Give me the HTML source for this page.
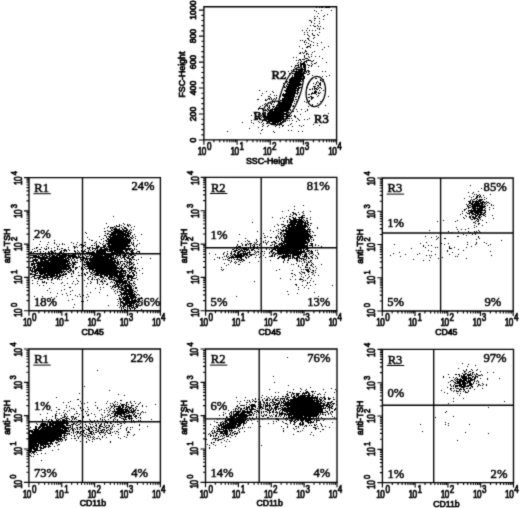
<!DOCTYPE html>
<html><head><meta charset="utf-8"><title>Flow cytometry</title>
<style>html,body{margin:0;padding:0;background:#fff}svg{display:block}</style></head>
<body><svg width="520" height="508" viewBox="0 0 520 508" style="display:block"><rect width="520" height="508" fill="#fff"/><defs><filter id="soft" x="0" y="0" width="100%" height="100%" filterUnits="userSpaceOnUse" color-interpolation-filters="sRGB"><feConvolveMatrix order="3" kernelMatrix="0.025 0.1 0.025 0.1 0.5 0.1 0.025 0.1 0.025" divisor="1" edgeMode="duplicate" preserveAlpha="false"/></filter></defs><g filter="url(#soft)"><path d="M203.9 6.7H336.6V139.8H203.9Z" fill="none" stroke="#000" stroke-width="1.35"/><path d="M203.90 139.8v5M213.89 139.8v2.5M219.73 139.8v2.5M223.87 139.8v2.5M227.09 139.8v2.5M229.72 139.8v2.5M231.94 139.8v2.5M233.86 139.8v2.5M235.56 139.8v2.5M237.08 139.8v5M247.06 139.8v2.5M252.90 139.8v2.5M257.05 139.8v2.5M260.26 139.8v2.5M262.89 139.8v2.5M265.11 139.8v2.5M267.04 139.8v2.5M268.73 139.8v2.5M270.25 139.8v5M280.24 139.8v2.5M286.08 139.8v2.5M290.22 139.8v2.5M293.44 139.8v2.5M296.07 139.8v2.5M298.29 139.8v2.5M300.21 139.8v2.5M301.91 139.8v2.5M303.43 139.8v5M313.41 139.8v2.5M319.25 139.8v2.5M323.40 139.8v2.5M326.61 139.8v2.5M329.24 139.8v2.5M331.46 139.8v2.5M333.39 139.8v2.5M335.08 139.8v2.5M336.60 139.8v5M203.9 140.00h-5M203.9 134.80h-2.5M203.9 129.61h-2.5M203.9 124.41h-2.5M203.9 119.22h-2.5M203.9 114.02h-5M203.9 108.82h-2.5M203.9 103.63h-2.5M203.9 98.43h-2.5M203.9 93.24h-2.5M203.9 88.04h-5M203.9 82.84h-2.5M203.9 77.65h-2.5M203.9 72.45h-2.5M203.9 67.26h-2.5M203.9 62.06h-5M203.9 56.86h-2.5M203.9 51.67h-2.5M203.9 46.47h-2.5M203.9 41.28h-2.5M203.9 36.08h-5M203.9 30.88h-2.5M203.9 25.69h-2.5M203.9 20.49h-2.5M203.9 15.30h-2.5M203.9 10.10h-5" fill="none" stroke="#000" stroke-width="1.15"/><g font-family="Liberation Sans, sans-serif" fill="#000" stroke="#000" stroke-width="0.7"><text transform="translate(197.8,154.6) scale(0.86,1.07)" font-size="9.5"><tspan letter-spacing="-0.6">10</tspan><tspan dx="1.2" dy="-4.6" font-size="9.4">0</tspan></text><text transform="translate(230.4,154.6) scale(0.86,1.07)" font-size="9.5"><tspan letter-spacing="-0.6">10</tspan><tspan dx="1.2" dy="-4.6" font-size="9.4">1</tspan></text><text transform="translate(263.0,154.6) scale(0.86,1.07)" font-size="9.5"><tspan letter-spacing="-0.6">10</tspan><tspan dx="1.2" dy="-4.6" font-size="9.4">2</tspan></text><text transform="translate(295.6,154.6) scale(0.86,1.07)" font-size="9.5"><tspan letter-spacing="-0.6">10</tspan><tspan dx="1.2" dy="-4.6" font-size="9.4">3</tspan></text><text transform="translate(328.2,154.6) scale(0.86,1.07)" font-size="9.5"><tspan letter-spacing="-0.6">10</tspan><tspan dx="1.2" dy="-4.6" font-size="9.4">4</tspan></text><text transform="translate(195.9,140.0) rotate(-90)" font-size="8.6" text-anchor="middle">0</text><text transform="translate(195.9,114.0) rotate(-90)" font-size="8.6" text-anchor="middle">200</text><text transform="translate(195.9,88.0) rotate(-90)" font-size="8.6" text-anchor="middle">400</text><text transform="translate(195.9,62.1) rotate(-90)" font-size="8.6" text-anchor="middle">600</text><text transform="translate(195.9,36.1) rotate(-90)" font-size="8.6" text-anchor="middle">800</text><text transform="translate(195.9,10.1) rotate(-90)" font-size="8.6" text-anchor="middle">1000</text><text x="246" y="163.8" font-size="8.8">SSC-Height</text><text transform="translate(184.6,97.6) rotate(-90)" font-size="8.8">FSC-Height</text></g><path transform="translate(0,0.5)" d="M316 7h1M319 7h1M321 7h2M325 7h5M314 10h1M321 10h1M331 10h1M316 11h1M318 13h1M327 14h1M324 15h1M314 16h1M317 16h1M323 16h1M314 18h2M319 18h1M323 19h1M309 20h2M314 20h1M311 21h1M319 21h1M311 22h1M314 23h1M319 23h1M310 25h1M313 25h1M317 25h1M314 26h2M318 26h1M320 26h1M307 28h1M317 28h1M319 28h1M323 28h1M319 29h1M302 30h1M306 30h1M309 30h1M312 30h1M315 30h1M304 32h1M307 32h1M319 32h1M312 33h1M304 34h1M307 34h1M312 34h1M317 34h1M308 35h1M313 35h2M318 35h1M309 36h1M314 37h1M307 38h2M313 38h1M308 39h1M300 40h1M302 40h1M305 40h1M309 40h1M304 41h1M311 41h1M304 42h1M306 42h1M313 42h1M321 42h1M308 43h1M317 43h1M305 44h1M310 44h1M310 45h1M313 45h1M317 45h1M299 46h1M307 46h3M328 46h1M306 47h2M310 47h1M324 47h1M302 48h1M322 49h1M305 50h1M305 51h2M314 51h1M300 52h1M302 52h1M304 52h1M312 52h1M299 53h2M303 53h1M306 53h2M306 54h1M308 54h1M311 54h1M304 55h1M304 56h1M308 56h1M311 56h1M315 56h1M319 56h1M293 57h1M296 57h1M304 57h1M309 57h1M305 58h3M322 58h1M299 59h2M302 59h3M308 59h1M296 60h1M298 60h1M300 60h1M306 60h5M313 60h1M301 61h1M304 61h3M311 61h2M298 62h1M300 62h1M303 62h2M306 62h1M316 62h1M326 62h1M297 63h1M300 63h5M311 63h1M314 63h2M298 64h1M300 64h6M307 64h1M312 64h1M295 65h4M300 65h2M303 65h3M308 65h2M311 65h1M291 66h1M295 66h1M298 66h1M300 66h2M303 66h3M311 66h1M318 66h1M294 67h1M299 67h1M301 67h1M303 67h3M308 67h1M295 68h2M301 68h2M304 68h2M293 69h2M296 69h10M291 70h1M296 70h1M298 70h5M304 70h2M307 70h2M288 71h1M293 71h10M304 71h3M308 71h2M322 71h1M325 71h1M295 72h7M303 72h2M306 72h1M308 72h1M289 73h1M292 73h14M309 73h1M294 74h10M307 74h2M292 75h1M294 75h10M312 75h1M329 75h1M288 76h1M292 76h1M294 76h11M315 76h1M322 76h1M326 76h1M285 77h1M291 77h11M304 77h1M290 78h15M311 78h2M315 78h2M289 79h15M320 79h1M323 79h1M289 80h12M302 80h1M320 80h2M286 81h2M289 81h13M303 81h1M317 81h1M322 81h1M286 82h1M288 82h12M316 82h1M318 82h1M320 82h1M283 83h1M287 83h1M289 83h12M302 83h1M313 83h1M316 83h1M319 83h2M284 84h1M287 84h15M308 84h1M315 84h1M319 84h2M283 85h1M286 85h1M288 85h13M317 85h2M320 85h1M284 86h1M286 86h13M313 86h3M318 86h1M284 87h2M287 87h10M298 87h4M306 87h1M314 87h1M317 87h1M319 87h2M286 88h14M312 88h1M314 88h3M318 88h1M321 88h1M286 89h10M297 89h2M309 89h2M312 89h1M314 89h1M316 89h2M259 90h1M284 90h15M315 90h1M319 90h1M323 90h1M266 91h1M272 91h1M281 91h1M285 91h11M297 91h1M314 91h3M273 92h1M286 92h10M297 92h2M312 92h1M314 92h3M318 92h1M320 92h1M262 93h1M283 93h1M285 93h13M311 93h5M318 93h2M270 94h1M282 94h13M297 94h1M308 94h2M311 94h1M316 94h1M261 95h1M274 95h1M276 95h1M280 95h1M282 95h13M299 95h1M318 95h1M268 96h2M280 96h1M283 96h12M296 96h1M298 96h1M310 96h2M317 96h1M328 96h1M270 97h1M276 97h1M279 97h1M284 97h10M295 97h1M298 97h1M308 97h2M311 97h3M268 98h2M271 98h1M274 98h1M276 98h1M282 98h12M298 98h1M311 98h2M257 99h2M265 99h1M267 99h1M269 99h1M271 99h1M273 99h1M275 99h1M282 99h12M295 99h2M311 99h1M265 100h2M272 100h1M280 100h14M307 100h1M309 100h1M272 101h1M274 101h1M279 101h1M282 101h11M294 101h1M296 101h1M304 101h1M308 101h2M320 101h1M268 102h1M272 102h1M274 102h1M279 102h14M306 102h1M265 103h1M270 103h2M278 103h14M294 103h1M296 103h1M317 103h1M264 104h1M266 104h1M271 104h1M273 104h1M277 104h1M279 104h13M312 104h1M262 105h1M267 105h1M269 105h1M276 105h16M293 105h1M312 105h1M325 105h1M260 106h1M267 106h1M269 106h1M272 106h3M276 106h1M278 106h13M292 106h2M308 106h1M259 107h1M264 107h1M268 107h2M273 107h1M275 107h16M318 107h1M258 108h5M267 108h1M269 108h1M272 108h1M274 108h16M258 109h1M262 109h1M265 109h1M267 109h2M270 109h21M296 109h1M301 109h1M307 109h1M264 110h3M268 110h5M274 110h15M290 110h1M292 110h1M307 110h1M267 111h1M269 111h19M292 111h2M297 111h1M305 111h1M256 112h1M259 112h1M265 112h1M268 112h16M286 112h4M254 113h1M259 113h1M262 113h2M267 113h20M290 113h1M328 113h1M258 114h1M262 114h2M265 114h1M267 114h21M300 114h1M251 115h1M261 115h1M264 115h2M267 115h17M286 115h4M291 115h1M294 115h1M256 116h1M260 116h1M262 116h1M264 116h27M294 116h2M259 117h1M261 117h1M263 117h1M265 117h19M286 117h2M295 117h1M315 117h1M255 118h3M259 118h2M266 118h18M287 118h3M291 118h1M297 118h1M309 118h1M255 119h1M257 119h1M265 119h1M267 119h17M298 119h1M304 119h1M307 119h1M251 120h1M262 120h5M268 120h14M283 120h1M285 120h1M287 120h1M289 120h1M292 120h1M299 120h1M258 121h1M262 121h1M266 121h15M282 121h2M285 121h1M296 121h1M242 122h1M251 122h1M259 122h1M261 122h1M267 122h1M269 122h1M272 122h7M280 122h3M325 122h1M253 123h1M263 123h1M266 123h2M270 123h6M277 123h1M279 123h1M291 123h1M262 124h1M271 124h1M273 124h3M277 124h2M280 124h2M290 124h1M313 124h1M263 125h1M268 125h1M276 125h1M279 125h1M282 125h2M288 125h1M299 125h1M303 125h1M319 125h1M262 126h1M267 126h1M275 126h1M282 126h1M292 126h1M301 126h1M258 127h1M279 127h1M249 128h1M262 129h1M261 130h1M288 130h1M291 130h1M227 131h1M273 131h1M298 131h1M302 131h1M274 132h1M260 133h1" stroke="#000" stroke-width="1.1" fill="none"/><g fill="none" stroke="#000" stroke-width="1.25"><ellipse cx="275.6" cy="112.9" rx="12.5" ry="11.9"/><ellipse cx="290.6" cy="93.6" rx="27.5" ry="9.3" transform="rotate(-70 290.6 93.6)"/><ellipse cx="315.8" cy="91.6" rx="9.6" ry="15.2" transform="rotate(8 315.8 91.6)"/></g><g font-family="Liberation Serif, serif" font-size="12.6" fill="#000" stroke="#000" stroke-width="0.7"><text x="271.5" y="79.4">R2</text><text x="253.4" y="119.8">R1</text><text x="314.0" y="122.6">R3</text></g><g><path transform="translate(0,0.5)" d="M113 216h1M106 223h1M123 223h1M119 224h1M124 224h1M127 224h1M129 224h1M116 225h1M119 225h1M121 225h1M127 225h2M130 225h1M108 226h1M114 226h1M116 226h4M123 226h1M128 226h1M134 226h1M107 227h1M110 227h4M115 227h1M121 227h1M124 227h2M131 227h1M104 228h1M110 228h1M112 228h1M114 228h3M119 228h1M122 228h1M124 228h3M111 229h1M113 229h7M122 229h2M126 229h2M130 229h1M133 229h1M107 230h1M111 230h2M114 230h8M123 230h5M129 230h1M131 230h1M104 231h2M108 231h3M113 231h14M128 231h2M85 232h1M111 232h13M125 232h4M130 232h2M86 233h1M105 233h1M107 233h2M111 233h15M127 233h4M107 234h1M109 234h7M117 234h12M130 234h1M134 234h1M141 234h1M104 235h2M110 235h20M132 235h1M99 236h1M106 236h1M108 236h3M112 236h12M125 236h5M132 236h1M135 236h1M87 237h1M106 237h1M109 237h18M128 237h1M130 237h2M133 237h1M103 238h1M107 238h2M110 238h18M129 238h1M131 238h2M135 238h1M33 239h1M89 239h1M101 239h1M107 239h24M54 240h1M91 240h2M105 240h2M108 240h23M133 240h1M137 240h1M40 241h1M96 241h1M103 241h1M106 241h25M48 242h1M54 242h1M71 242h1M77 242h1M84 242h2M95 242h1M99 242h1M108 242h22M131 242h1M133 242h1M54 243h1M62 243h1M73 243h1M94 243h1M96 243h1M100 243h1M103 243h1M106 243h24M131 243h1M133 243h1M139 243h1M39 244h1M47 244h1M56 244h1M59 244h1M62 244h1M64 244h1M76 244h1M80 244h2M85 244h1M96 244h1M102 244h1M105 244h1M107 244h3M111 244h17M132 244h2M137 244h1M79 245h1M81 245h1M83 245h2M91 245h2M94 245h1M96 245h1M98 245h1M103 245h3M108 245h23M133 245h1M136 245h1M46 246h1M57 246h2M73 246h2M76 246h1M83 246h1M85 246h1M96 246h4M103 246h3M107 246h23M134 246h1M136 246h1M36 247h2M41 247h1M48 247h1M54 247h1M68 247h1M74 247h2M77 247h1M81 247h1M87 247h1M89 247h2M92 247h1M96 247h3M100 247h5M106 247h1M108 247h18M128 247h1M34 248h1M36 248h1M44 248h1M46 248h1M48 248h1M51 248h1M57 248h1M61 248h2M74 248h1M87 248h3M92 248h6M100 248h2M104 248h4M109 248h23M134 248h1M32 249h1M39 249h2M45 249h2M57 249h1M59 249h1M64 249h2M68 249h1M85 249h1M89 249h1M92 249h1M95 249h1M97 249h1M99 249h32M132 249h1M134 249h1M136 249h1M37 250h1M51 250h1M54 250h2M61 250h1M63 250h4M69 250h1M74 250h1M77 250h1M81 250h1M84 250h1M88 250h1M90 250h1M94 250h1M96 250h12M109 250h14M125 250h3M129 250h1M131 250h3M31 251h1M34 251h2M37 251h1M40 251h1M43 251h1M48 251h1M50 251h3M54 251h1M60 251h2M64 251h1M66 251h1M74 251h2M78 251h1M81 251h1M83 251h3M88 251h1M92 251h2M96 251h10M107 251h6M114 251h10M125 251h2M130 251h3M137 251h3M30 252h2M33 252h1M40 252h1M45 252h1M48 252h2M51 252h3M55 252h1M59 252h3M63 252h1M75 252h1M77 252h1M79 252h1M82 252h2M86 252h9M96 252h10M111 252h14M126 252h3M131 252h3M136 252h1M139 252h1M32 253h1M34 253h1M36 253h1M41 253h1M43 253h1M51 253h2M55 253h5M63 253h2M66 253h1M69 253h1M73 253h1M78 253h1M85 253h3M90 253h11M102 253h12M115 253h5M122 253h4M127 253h1M131 253h2M37 254h1M39 254h1M42 254h2M45 254h1M48 254h2M51 254h2M55 254h1M57 254h3M62 254h5M68 254h1M72 254h4M78 254h1M80 254h1M84 254h1M87 254h1M89 254h29M119 254h2M124 254h2M129 254h5M30 255h7M38 255h1M40 255h3M44 255h3M49 255h2M52 255h3M56 255h20M78 255h1M80 255h1M82 255h1M85 255h1M89 255h1M91 255h12M104 255h10M116 255h5M122 255h5M128 255h1M130 255h2M134 255h2M33 256h7M42 256h3M46 256h4M51 256h7M59 256h8M68 256h9M78 256h2M83 256h1M86 256h3M90 256h2M93 256h19M113 256h1M115 256h2M118 256h1M120 256h1M123 256h3M128 256h2M132 256h2M30 257h18M49 257h17M67 257h4M72 257h10M83 257h2M86 257h1M90 257h1M92 257h22M115 257h1M117 257h1M120 257h1M122 257h3M126 257h3M131 257h3M141 257h1M30 258h1M32 258h1M35 258h1M38 258h26M65 258h4M70 258h1M72 258h2M76 258h2M80 258h1M82 258h27M110 258h7M121 258h1M124 258h1M127 258h4M132 258h1M150 258h1M33 259h5M40 259h6M48 259h19M68 259h2M71 259h1M74 259h1M80 259h2M83 259h1M85 259h3M89 259h26M117 259h1M119 259h1M124 259h2M129 259h3M133 259h2M138 259h1M32 260h6M40 260h3M44 260h25M71 260h1M74 260h1M77 260h1M81 260h1M83 260h1M85 260h1M87 260h1M89 260h24M114 260h2M117 260h1M126 260h1M129 260h1M131 260h1M136 260h1M30 261h4M35 261h2M38 261h1M40 261h9M50 261h20M72 261h1M75 261h1M80 261h1M82 261h1M84 261h1M86 261h3M90 261h26M117 261h2M120 261h3M124 261h2M127 261h1M129 261h2M33 262h1M36 262h32M69 262h1M72 262h6M84 262h35M120 262h1M126 262h6M133 262h1M31 263h35M67 263h4M72 263h3M82 263h1M86 263h29M116 263h3M120 263h1M123 263h2M127 263h1M129 263h1M131 263h2M137 263h1M31 264h4M37 264h32M71 264h1M73 264h3M82 264h34M117 264h3M122 264h1M124 264h1M126 264h1M129 264h3M133 264h2M31 265h2M34 265h1M36 265h35M72 265h2M84 265h1M87 265h31M121 265h2M125 265h1M127 265h1M129 265h1M133 265h1M33 266h3M37 266h33M72 266h2M79 266h1M85 266h32M119 266h1M121 266h1M124 266h3M128 266h1M131 266h2M30 267h2M33 267h3M37 267h5M43 267h24M68 267h3M72 267h2M75 267h3M81 267h1M84 267h1M88 267h31M120 267h2M124 267h1M126 267h1M129 267h5M135 267h1M30 268h1M32 268h3M36 268h35M75 268h2M81 268h1M85 268h1M87 268h37M127 268h6M134 268h2M137 268h1M142 268h1M30 269h1M32 269h1M34 269h35M70 269h2M75 269h1M81 269h1M83 269h1M86 269h1M89 269h5M95 269h22M119 269h1M121 269h2M129 269h3M135 269h1M30 270h3M34 270h28M63 270h1M66 270h1M69 270h3M73 270h1M89 270h1M92 270h27M120 270h6M127 270h1M129 270h1M131 270h4M139 270h1M31 271h6M38 271h28M67 271h2M70 271h1M72 271h2M89 271h1M92 271h1M94 271h32M128 271h1M131 271h1M134 271h2M32 272h1M34 272h2M37 272h1M39 272h24M64 272h1M68 272h2M73 272h1M78 272h1M86 272h2M90 272h2M93 272h2M96 272h26M123 272h1M125 272h2M129 272h2M132 272h2M136 272h1M30 273h2M35 273h3M39 273h7M47 273h13M61 273h1M63 273h1M65 273h2M71 273h1M73 273h1M81 273h1M84 273h1M87 273h1M91 273h2M95 273h23M119 273h7M129 273h1M132 273h2M136 273h1M142 273h1M30 274h6M40 274h3M44 274h11M56 274h2M59 274h2M62 274h5M71 274h1M84 274h2M90 274h1M93 274h6M100 274h18M119 274h4M125 274h1M127 274h2M133 274h2M34 275h7M43 275h15M59 275h5M78 275h2M81 275h1M85 275h1M92 275h1M95 275h7M104 275h4M109 275h17M127 275h5M133 275h2M136 275h1M32 276h3M39 276h6M46 276h2M50 276h5M56 276h5M65 276h1M71 276h2M89 276h2M94 276h1M100 276h3M104 276h1M106 276h2M109 276h4M114 276h11M126 276h8M31 277h1M34 277h1M37 277h4M42 277h11M55 277h2M58 277h2M62 277h1M88 277h1M92 277h1M95 277h1M100 277h4M108 277h7M116 277h8M127 277h6M136 277h1M34 278h3M38 278h2M43 278h3M47 278h1M52 278h1M54 278h2M57 278h2M67 278h1M76 278h1M82 278h1M87 278h1M92 278h1M98 278h1M103 278h1M105 278h1M108 278h2M111 278h1M114 278h2M117 278h5M123 278h3M127 278h2M131 278h5M38 279h1M40 279h3M47 279h2M51 279h2M57 279h1M59 279h1M61 279h1M88 279h1M91 279h2M94 279h1M96 279h2M99 279h1M102 279h1M106 279h1M109 279h6M116 279h1M118 279h6M127 279h3M131 279h1M137 279h1M32 280h1M51 280h1M77 280h1M84 280h1M97 280h1M101 280h1M104 280h1M113 280h10M124 280h4M130 280h3M37 281h1M42 281h1M44 281h1M73 281h1M78 281h1M90 281h1M97 281h1M100 281h3M104 281h2M111 281h1M115 281h12M128 281h2M134 281h1M42 282h3M46 282h1M51 282h1M62 282h1M91 282h1M97 282h1M102 282h1M110 282h1M112 282h1M114 282h1M116 282h11M128 282h2M133 282h1M32 283h1M37 283h1M46 283h1M53 283h1M61 283h1M67 283h1M72 283h1M77 283h1M87 283h1M90 283h1M97 283h1M103 283h1M107 283h1M114 283h1M116 283h2M119 283h2M122 283h6M129 283h3M133 283h2M75 284h1M99 284h1M102 284h1M106 284h2M115 284h5M121 284h3M125 284h1M127 284h3M131 284h1M135 284h1M39 285h1M43 285h1M64 285h1M113 285h3M117 285h2M120 285h3M124 285h7M132 285h1M134 285h1M86 286h1M110 286h1M112 286h2M115 286h5M121 286h1M123 286h9M133 286h1M69 287h2M100 287h1M103 287h1M112 287h1M114 287h2M118 287h5M124 287h3M128 287h4M135 287h2M49 288h1M95 288h1M111 288h1M118 288h1M121 288h6M129 288h3M133 288h1M135 288h2M64 289h1M100 289h1M113 289h1M117 289h1M119 289h5M125 289h8M47 290h1M61 290h1M72 290h1M115 290h1M121 290h13M137 290h1M70 291h1M114 291h1M117 291h1M119 291h2M124 291h9M134 291h2M50 292h1M90 292h1M99 292h1M117 292h1M120 292h2M123 292h4M128 292h6M136 292h1M57 293h1M66 293h1M115 293h1M121 293h12M134 293h1M62 294h1M70 294h1M79 294h1M87 294h1M120 294h16M137 294h2M67 295h1M75 295h1M82 295h2M107 295h1M118 295h2M121 295h1M124 295h1M126 295h2M129 295h6M136 295h1M139 295h1M34 296h1M42 296h1M56 296h1M77 296h1M80 296h1M88 296h1M121 296h1M123 296h1M125 296h11M51 297h1M86 297h1M119 297h1M122 297h7M130 297h7M141 297h1M119 298h2M122 298h12M135 298h1M142 298h1M52 299h1M72 299h1M117 299h1M119 299h3M123 299h7M131 299h2M134 299h2M137 299h1M139 299h1M68 300h1M87 300h1M120 300h1M123 300h7M131 300h6M139 300h1M142 300h1M81 301h1M83 301h1M118 301h1M120 301h3M125 301h13M120 302h4M125 302h11M137 302h2M40 303h1M118 303h1M120 303h1M122 303h13M136 303h1M139 303h1M145 303h1M74 304h1M120 304h1M123 304h5M129 304h3M133 304h1M135 304h2M138 304h1M145 304h1M108 305h1M117 305h1M120 305h2M123 305h3M127 305h7M136 305h2M140 305h1M120 306h1M122 306h3M127 306h5M133 306h1M135 306h3M73 307h1M119 307h1M121 307h1M123 307h1M125 307h1M127 307h1M129 307h1M131 307h4M136 307h2M121 308h1M123 308h1M127 308h1M129 308h2M132 308h1M134 308h2M121 309h1M124 309h2M127 309h1M130 309h1M134 309h1M141 309h1M120 310h1M123 310h1M127 310h1M130 310h2M135 310h2M143 310h1" stroke="#000" stroke-width="1.1" fill="none"/><path d="M29.0 177.6H160.4V310.7H29.0Z M82.5 177.6V310.7 M29.0 253.7H160.4" fill="none" stroke="#000" stroke-width="1.35"/><path d="M29.00 310.7v5M38.89 310.7v2.5M44.67 310.7v2.5M48.78 310.7v2.5M51.96 310.7v2.5M54.56 310.7v2.5M56.76 310.7v2.5M58.67 310.7v2.5M60.35 310.7v2.5M61.85 310.7v5M71.74 310.7v2.5M77.52 310.7v2.5M81.63 310.7v2.5M84.81 310.7v2.5M87.41 310.7v2.5M89.61 310.7v2.5M91.52 310.7v2.5M93.20 310.7v2.5M94.70 310.7v5M104.59 310.7v2.5M110.37 310.7v2.5M114.48 310.7v2.5M117.66 310.7v2.5M120.26 310.7v2.5M122.46 310.7v2.5M124.37 310.7v2.5M126.05 310.7v2.5M127.55 310.7v5M137.44 310.7v2.5M143.22 310.7v2.5M147.33 310.7v2.5M150.51 310.7v2.5M153.11 310.7v2.5M155.31 310.7v2.5M157.22 310.7v2.5M158.90 310.7v2.5M160.40 310.7v5M29.0 310.70h-5M29.0 300.68h-2.5M29.0 294.82h-2.5M29.0 290.67h-2.5M29.0 287.44h-2.5M29.0 284.81h-2.5M29.0 282.58h-2.5M29.0 280.65h-2.5M29.0 278.95h-2.5M29.0 277.43h-5M29.0 267.41h-2.5M29.0 261.55h-2.5M29.0 257.39h-2.5M29.0 254.17h-2.5M29.0 251.53h-2.5M29.0 249.30h-2.5M29.0 247.37h-2.5M29.0 245.67h-2.5M29.0 244.15h-5M29.0 234.13h-2.5M29.0 228.27h-2.5M29.0 224.12h-2.5M29.0 220.89h-2.5M29.0 218.26h-2.5M29.0 216.03h-2.5M29.0 214.10h-2.5M29.0 212.40h-2.5M29.0 210.88h-5M29.0 200.86h-2.5M29.0 195.00h-2.5M29.0 190.84h-2.5M29.0 187.62h-2.5M29.0 184.98h-2.5M29.0 182.75h-2.5M29.0 180.82h-2.5M29.0 179.12h-2.5M29.0 177.60h-5" fill="none" stroke="#000" stroke-width="1.15"/><g font-family="Liberation Sans, sans-serif" fill="#000" stroke="#000" stroke-width="0.7"><text transform="translate(22.9,326.0) scale(0.86,1.07)" font-size="9.5"><tspan letter-spacing="-0.6">10</tspan><tspan dx="1.2" dy="-4.6" font-size="9.4">0</tspan></text><text transform="translate(55.2,326.0) scale(0.86,1.07)" font-size="9.5"><tspan letter-spacing="-0.6">10</tspan><tspan dx="1.2" dy="-4.6" font-size="9.4">1</tspan></text><text transform="translate(87.4,326.0) scale(0.86,1.07)" font-size="9.5"><tspan letter-spacing="-0.6">10</tspan><tspan dx="1.2" dy="-4.6" font-size="9.4">2</tspan></text><text transform="translate(119.7,326.0) scale(0.86,1.07)" font-size="9.5"><tspan letter-spacing="-0.6">10</tspan><tspan dx="1.2" dy="-4.6" font-size="9.4">3</tspan></text><text transform="translate(152.0,326.0) scale(0.86,1.07)" font-size="9.5"><tspan letter-spacing="-0.6">10</tspan><tspan dx="1.2" dy="-4.6" font-size="9.4">4</tspan></text><text transform="translate(21.9,317.0) rotate(-90) scale(0.86,1.07)" font-size="9.5"><tspan letter-spacing="-0.6">10</tspan><tspan dx="2.2" dy="-5" font-size="8.8">0</tspan></text><text transform="translate(21.9,284.0) rotate(-90) scale(0.86,1.07)" font-size="9.5"><tspan letter-spacing="-0.6">10</tspan><tspan dx="2.2" dy="-5" font-size="8.8">1</tspan></text><text transform="translate(21.9,251.0) rotate(-90) scale(0.86,1.07)" font-size="9.5"><tspan letter-spacing="-0.6">10</tspan><tspan dx="2.2" dy="-5" font-size="8.8">2</tspan></text><text transform="translate(21.9,218.1) rotate(-90) scale(0.86,1.07)" font-size="9.5"><tspan letter-spacing="-0.6">10</tspan><tspan dx="2.2" dy="-5" font-size="8.8">3</tspan></text><text transform="translate(21.9,185.1) rotate(-90) scale(0.86,1.07)" font-size="9.5"><tspan letter-spacing="-0.6">10</tspan><tspan dx="2.2" dy="-5" font-size="8.8">4</tspan></text><text x="81.6" y="334.7" font-size="8.7">CD45</text><text transform="translate(10.0,263.3) rotate(-90) scale(1,1.12)" font-size="8.8">anti-TSH</text></g><g font-family="Liberation Serif, serif" font-size="12.6" fill="#000" stroke="#000" stroke-width="0.5"><text x="34.3" y="191.7">R1</text><path d="M33.4 193.7h17.4" stroke="#000" stroke-width="1"/><text x="154.6" y="190.2" text-anchor="end">24%</text><text x="34.0" y="238.3">2%</text><text x="34.0" y="305.8">18%</text><text x="160.2" y="305.8" text-anchor="end">56%</text></g></g><g><path transform="translate(0,0.5)" d="M303 205h1M294 206h1M294 209h1M288 210h1M282 211h1M303 211h1M310 211h1M292 212h2M298 212h1M302 212h1M293 213h3M303 213h1M290 214h1M293 214h1M295 214h2M299 214h1M292 215h1M296 215h1M302 215h3M286 216h1M289 216h2M301 216h2M272 217h1M282 217h1M292 217h2M295 217h1M298 217h7M310 217h1M280 218h1M284 218h1M289 218h1M293 218h3M299 218h1M301 218h2M306 218h2M289 219h2M293 219h9M303 219h1M310 219h1M287 220h1M290 220h7M298 220h5M304 220h1M306 220h2M283 221h1M287 221h1M290 221h14M305 221h1M307 221h1M252 222h1M287 222h1M289 222h17M307 222h2M290 223h6M297 223h6M304 223h4M310 223h2M277 224h1M281 224h3M288 224h15M304 224h2M307 224h2M278 225h1M284 225h2M287 225h8M296 225h11M308 225h1M310 225h1M274 226h1M283 226h2M287 226h3M291 226h17M282 227h1M285 227h2M288 227h18M307 227h1M309 227h1M317 227h1M286 228h19M308 228h1M317 228h1M278 229h1M280 229h1M283 229h1M285 229h2M288 229h18M307 229h4M270 230h1M276 230h1M281 230h27M309 230h1M257 231h1M273 231h1M278 231h1M282 231h2M285 231h26M312 231h1M280 232h2M286 232h22M309 232h1M313 232h1M263 233h1M278 233h1M280 233h2M283 233h26M310 233h1M239 234h1M280 234h1M282 234h1M284 234h26M264 235h1M277 235h1M281 235h1M283 235h2M286 235h25M312 235h1M314 235h2M267 236h1M276 236h1M278 236h1M281 236h1M283 236h29M264 237h2M270 237h2M275 237h2M278 237h1M280 237h1M284 237h25M310 237h3M245 238h1M260 238h1M276 238h1M279 238h1M281 238h2M284 238h25M310 238h1M256 239h1M279 239h1M281 239h1M284 239h26M311 239h1M313 239h1M247 240h1M256 240h1M265 240h1M276 240h1M281 240h2M284 240h22M307 240h3M313 240h1M238 241h1M245 241h1M248 241h2M257 241h1M263 241h1M268 241h1M273 241h2M278 241h1M282 241h25M308 241h2M311 241h1M254 242h1M256 242h1M263 242h1M265 242h1M267 242h1M271 242h2M274 242h2M281 242h1M283 242h26M241 243h1M247 243h1M249 243h3M255 243h1M260 243h1M266 243h1M275 243h2M279 243h6M286 243h22M310 243h3M237 244h1M242 244h1M245 244h2M248 244h1M250 244h1M253 244h2M256 244h2M259 244h1M266 244h1M272 244h1M274 244h1M278 244h5M284 244h21M307 244h1M311 244h2M315 244h1M237 245h1M242 245h1M245 245h2M250 245h1M252 245h1M254 245h1M259 245h1M270 245h2M274 245h1M276 245h2M279 245h1M281 245h27M309 245h4M315 245h1M318 245h1M236 246h1M238 246h3M250 246h1M253 246h2M257 246h1M274 246h5M280 246h28M312 246h1M321 246h1M237 247h1M240 247h1M244 247h1M251 247h3M256 247h1M258 247h1M261 247h2M265 247h3M269 247h1M275 247h1M277 247h33M311 247h1M314 247h1M317 247h1M234 248h1M236 248h2M240 248h1M242 248h5M248 248h1M250 248h1M253 248h2M256 248h2M261 248h1M266 248h1M271 248h1M273 248h32M306 248h3M232 249h2M236 249h1M238 249h2M241 249h1M243 249h6M251 249h3M258 249h1M266 249h1M269 249h1M272 249h4M277 249h25M303 249h1M305 249h3M234 250h4M240 250h3M244 250h1M246 250h2M249 250h1M251 250h2M254 250h1M261 250h1M271 250h2M275 250h24M300 250h2M303 250h2M307 250h3M311 250h1M315 250h1M317 250h1M227 251h1M231 251h1M233 251h3M238 251h3M242 251h4M249 251h1M255 251h1M257 251h2M261 251h2M264 251h1M270 251h3M277 251h28M306 251h3M310 251h3M224 252h1M231 252h1M235 252h1M237 252h3M243 252h1M245 252h1M247 252h4M254 252h1M256 252h1M258 252h1M269 252h1M271 252h1M273 252h2M277 252h29M309 252h1M311 252h2M317 252h1M209 253h1M223 253h1M227 253h1M230 253h2M234 253h1M237 253h2M240 253h8M249 253h1M255 253h1M260 253h2M264 253h1M269 253h1M272 253h2M275 253h27M305 253h2M308 253h1M310 253h3M318 253h1M215 254h1M223 254h1M227 254h1M231 254h1M233 254h3M237 254h5M243 254h5M249 254h6M258 254h1M272 254h1M274 254h2M278 254h4M283 254h1M285 254h4M290 254h1M292 254h9M302 254h1M304 254h3M309 254h1M313 254h1M318 254h1M226 255h1M230 255h1M232 255h1M234 255h11M246 255h2M250 255h2M256 255h1M263 255h1M271 255h2M274 255h1M277 255h1M282 255h9M292 255h7M300 255h1M304 255h3M312 255h1M315 255h1M224 256h1M226 256h1M228 256h1M231 256h3M235 256h9M245 256h1M248 256h2M260 256h1M269 256h4M274 256h1M279 256h12M292 256h2M297 256h3M302 256h6M310 256h2M316 256h1M217 257h1M219 257h1M222 257h1M227 257h1M229 257h13M245 257h2M248 257h1M255 257h1M259 257h1M265 257h1M278 257h2M281 257h6M288 257h1M290 257h1M292 257h3M296 257h4M304 257h1M306 257h1M308 257h1M311 257h2M317 257h1M219 258h1M228 258h2M231 258h1M233 258h1M237 258h1M240 258h2M246 258h1M277 258h2M282 258h3M288 258h3M292 258h1M294 258h4M299 258h5M306 258h1M308 258h2M312 258h1M315 258h1M317 258h1M214 259h1M223 259h1M225 259h1M227 259h1M234 259h1M236 259h4M241 259h3M284 259h1M288 259h1M296 259h2M301 259h1M303 259h3M228 260h2M231 260h1M239 260h3M243 260h2M270 260h1M284 260h1M287 260h2M296 260h2M299 260h1M303 260h1M306 260h1M310 260h2M231 261h1M235 261h1M238 261h1M242 261h1M258 261h1M283 261h1M297 261h1M299 261h1M301 261h1M304 261h1M308 261h1M310 261h1M230 262h1M234 262h1M236 262h1M240 262h1M249 262h1M283 262h1M287 262h1M304 262h1M306 262h1M308 262h2M311 262h1M224 263h1M235 263h1M296 263h1M302 263h1M307 263h1M312 263h1M228 264h1M238 264h2M291 264h1M293 264h1M306 264h2M311 264h1M313 264h1M321 264h1M226 265h1M298 265h1M302 265h1M306 265h2M310 265h2M298 266h1M305 266h1M312 266h1M315 266h1M221 267h1M300 267h1M305 267h3M309 267h1M313 267h1M309 268h1M316 268h1M221 269h1M223 269h1M279 269h1M301 269h1M303 269h1M305 269h4M310 269h1M222 270h1M276 270h1M292 270h1M306 270h3M312 270h2M315 270h1M301 271h1M307 271h3M313 271h1M299 272h1M302 272h3M308 272h1M311 272h2M315 272h1M291 273h2M300 273h1M304 273h1M313 273h1M294 274h1M301 274h1M308 274h1M312 274h1M295 275h1M305 275h1M314 275h1M318 275h1M292 276h1M301 276h1M309 276h1M303 277h1M308 277h1M280 278h1M300 278h1M307 278h1M311 278h1M290 279h1M295 279h1M299 279h4M303 280h1M305 280h1M310 280h1M254 281h1M302 281h1M313 281h1M307 282h1M309 282h1M307 283h1M295 284h2M315 284h1M296 285h1M302 285h1M306 285h1M310 285h1M332 285h1M298 287h1M304 287h1M308 288h1M298 289h1M287 291h1M314 292h1M297 293h1M288 294h1M236 296h1M318 296h1" stroke="#000" stroke-width="1.1" fill="none"/><path d="M205.6 177.4H336.8V310.7H205.6Z M261.2 177.4V310.7 M205.6 247.7H336.8" fill="none" stroke="#000" stroke-width="1.35"/><path d="M205.60 310.7v5M215.47 310.7v2.5M221.25 310.7v2.5M225.35 310.7v2.5M228.53 310.7v2.5M231.12 310.7v2.5M233.32 310.7v2.5M235.22 310.7v2.5M236.90 310.7v2.5M238.40 310.7v5M248.27 310.7v2.5M254.05 310.7v2.5M258.15 310.7v2.5M261.33 310.7v2.5M263.92 310.7v2.5M266.12 310.7v2.5M268.02 310.7v2.5M269.70 310.7v2.5M271.20 310.7v5M281.07 310.7v2.5M286.85 310.7v2.5M290.95 310.7v2.5M294.13 310.7v2.5M296.72 310.7v2.5M298.92 310.7v2.5M300.82 310.7v2.5M302.50 310.7v2.5M304.00 310.7v5M313.87 310.7v2.5M319.65 310.7v2.5M323.75 310.7v2.5M326.93 310.7v2.5M329.52 310.7v2.5M331.72 310.7v2.5M333.62 310.7v2.5M335.30 310.7v2.5M336.80 310.7v5M205.6 310.70h-5M205.6 300.67h-2.5M205.6 294.80h-2.5M205.6 290.64h-2.5M205.6 287.41h-2.5M205.6 284.77h-2.5M205.6 282.54h-2.5M205.6 280.60h-2.5M205.6 278.90h-2.5M205.6 277.38h-5M205.6 267.34h-2.5M205.6 261.47h-2.5M205.6 257.31h-2.5M205.6 254.08h-2.5M205.6 251.44h-2.5M205.6 249.21h-2.5M205.6 247.28h-2.5M205.6 245.57h-2.5M205.6 244.05h-5M205.6 234.02h-2.5M205.6 228.15h-2.5M205.6 223.99h-2.5M205.6 220.76h-2.5M205.6 218.12h-2.5M205.6 215.89h-2.5M205.6 213.95h-2.5M205.6 212.25h-2.5M205.6 210.72h-5M205.6 200.69h-2.5M205.6 194.82h-2.5M205.6 190.66h-2.5M205.6 187.43h-2.5M205.6 184.79h-2.5M205.6 182.56h-2.5M205.6 180.63h-2.5M205.6 178.92h-2.5M205.6 177.40h-5" fill="none" stroke="#000" stroke-width="1.15"/><g font-family="Liberation Sans, sans-serif" fill="#000" stroke="#000" stroke-width="0.7"><text transform="translate(199.5,326.0) scale(0.86,1.07)" font-size="9.5"><tspan letter-spacing="-0.6">10</tspan><tspan dx="1.2" dy="-4.6" font-size="9.4">0</tspan></text><text transform="translate(231.7,326.0) scale(0.86,1.07)" font-size="9.5"><tspan letter-spacing="-0.6">10</tspan><tspan dx="1.2" dy="-4.6" font-size="9.4">1</tspan></text><text transform="translate(263.9,326.0) scale(0.86,1.07)" font-size="9.5"><tspan letter-spacing="-0.6">10</tspan><tspan dx="1.2" dy="-4.6" font-size="9.4">2</tspan></text><text transform="translate(296.2,326.0) scale(0.86,1.07)" font-size="9.5"><tspan letter-spacing="-0.6">10</tspan><tspan dx="1.2" dy="-4.6" font-size="9.4">3</tspan></text><text transform="translate(328.4,326.0) scale(0.86,1.07)" font-size="9.5"><tspan letter-spacing="-0.6">10</tspan><tspan dx="1.2" dy="-4.6" font-size="9.4">4</tspan></text><text transform="translate(198.5,317.0) rotate(-90) scale(0.86,1.07)" font-size="9.5"><tspan letter-spacing="-0.6">10</tspan><tspan dx="2.2" dy="-5" font-size="8.8">0</tspan></text><text transform="translate(198.5,284.0) rotate(-90) scale(0.86,1.07)" font-size="9.5"><tspan letter-spacing="-0.6">10</tspan><tspan dx="2.2" dy="-5" font-size="8.8">1</tspan></text><text transform="translate(198.5,251.0) rotate(-90) scale(0.86,1.07)" font-size="9.5"><tspan letter-spacing="-0.6">10</tspan><tspan dx="2.2" dy="-5" font-size="8.8">2</tspan></text><text transform="translate(198.5,217.9) rotate(-90) scale(0.86,1.07)" font-size="9.5"><tspan letter-spacing="-0.6">10</tspan><tspan dx="2.2" dy="-5" font-size="8.8">3</tspan></text><text transform="translate(198.5,184.9) rotate(-90) scale(0.86,1.07)" font-size="9.5"><tspan letter-spacing="-0.6">10</tspan><tspan dx="2.2" dy="-5" font-size="8.8">4</tspan></text><text x="258.6" y="334.7" font-size="8.7">CD45</text><text transform="translate(186.6,263.2) rotate(-90) scale(1,1.12)" font-size="8.8">anti-TSH</text></g><g font-family="Liberation Serif, serif" font-size="12.6" fill="#000" stroke="#000" stroke-width="0.5"><text x="210.9" y="191.5">R2</text><path d="M210.0 193.5h17.4" stroke="#000" stroke-width="1"/><text x="329.8" y="190.0" text-anchor="end">81%</text><text x="210.6" y="238.6">1%</text><text x="210.6" y="305.8">5%</text><text x="330.3" y="305.8" text-anchor="end">13%</text></g></g><g><path transform="translate(0,0.5)" d="M470 185h1M481 188h1M478 191h1M468 192h1M473 192h1M472 193h1M474 194h1M476 194h1M479 194h1M490 194h1M477 195h2M480 195h1M483 195h1M469 196h1M473 196h1M476 196h2M479 196h2M471 197h1M476 197h2M479 197h1M481 197h1M484 197h1M464 198h1M475 198h2M486 198h1M471 199h1M473 199h2M477 199h1M479 199h4M484 199h1M470 200h1M472 200h1M476 200h1M478 200h4M468 201h3M472 201h9M482 201h2M486 201h1M469 202h2M472 202h2M475 202h4M480 202h6M487 202h2M469 203h4M474 203h9M484 203h1M486 203h1M489 203h1M466 204h1M468 204h1M471 204h9M481 204h3M485 204h1M491 204h1M467 205h1M469 205h2M472 205h11M484 205h1M487 205h1M491 205h1M493 205h1M467 206h2M471 206h15M468 207h3M472 207h4M477 207h1M479 207h6M489 207h1M466 208h1M468 208h1M472 208h11M485 208h1M493 208h1M464 209h2M471 209h1M473 209h3M477 209h6M484 209h1M489 209h1M464 210h1M468 210h18M462 211h1M468 211h1M470 211h12M485 211h1M466 212h1M469 212h4M474 212h9M484 212h2M462 213h1M467 213h3M471 213h3M475 213h4M480 213h2M483 213h2M460 214h1M469 214h1M472 214h4M477 214h7M485 214h1M465 215h1M471 215h1M475 215h3M479 215h2M483 215h2M492 215h1M466 216h1M469 216h2M472 216h2M475 216h2M478 216h2M481 216h1M485 216h1M463 217h1M469 217h2M472 217h4M478 217h3M464 218h1M470 218h1M473 218h5M479 218h1M493 218h1M471 219h2M474 219h1M477 219h2M480 219h1M443 220h1M457 220h1M476 220h1M478 220h1M482 220h1M437 221h1M455 221h1M475 221h1M477 221h2M473 222h2M486 222h1M475 223h1M478 223h2M478 224h1M474 225h1M482 225h1M476 226h1M456 227h1M474 227h1M468 228h1M457 229h1M461 229h1M465 229h1M429 230h1M478 230h1M448 231h1M458 231h1M468 231h1M474 231h1M476 231h1M479 231h1M451 232h1M470 232h1M475 232h1M477 232h1M480 232h1M469 233h1M474 233h1M463 234h1M472 234h1M475 234h1M466 235h1M425 236h1M436 236h1M457 236h2M478 236h1M431 237h1M438 237h1M478 237h1M437 238h1M444 238h2M479 238h1M436 239h1M476 239h1M501 240h1M426 242h1M467 242h1M476 242h1M484 242h1M420 243h1M441 243h1M448 243h1M476 243h1M486 243h1M394 244h1M444 244h1M467 244h1M475 244h1M490 244h1M423 245h1M428 245h1M431 245h1M440 245h1M488 245h1M423 246h1M449 246h1M471 246h1M425 247h1M435 247h1M437 247h1M449 247h1M454 247h1M466 247h1M411 248h1M449 248h3M458 249h1M428 250h1M447 250h1M463 250h1M431 251h1M447 251h1M490 251h1M399 252h1M452 252h1M393 253h1M419 253h1M405 254h1M417 254h1M435 254h1M449 254h1M458 254h1M390 255h1M426 255h1M429 255h1M431 255h1M491 255h1M400 256h1M455 256h1M457 256h1M430 257h1M442 257h1M438 258h1M466 258h1M413 259h1M423 260h1M429 260h1" stroke="#000" stroke-width="1.1" fill="none"/><path d="M382.3 178.0H513.2V311.0H382.3Z M440.6 178.0V311.0 M382.3 233.0H513.2" fill="none" stroke="#000" stroke-width="1.35"/><path d="M382.30 311.0v5M392.15 311.0v2.5M397.91 311.0v2.5M402.00 311.0v2.5M405.17 311.0v2.5M407.76 311.0v2.5M409.96 311.0v2.5M411.85 311.0v2.5M413.53 311.0v2.5M415.03 311.0v5M424.88 311.0v2.5M430.64 311.0v2.5M434.73 311.0v2.5M437.90 311.0v2.5M440.49 311.0v2.5M442.68 311.0v2.5M444.58 311.0v2.5M446.25 311.0v2.5M447.75 311.0v5M457.60 311.0v2.5M463.36 311.0v2.5M467.45 311.0v2.5M470.62 311.0v2.5M473.21 311.0v2.5M475.41 311.0v2.5M477.30 311.0v2.5M478.98 311.0v2.5M480.48 311.0v5M490.33 311.0v2.5M496.09 311.0v2.5M500.18 311.0v2.5M503.35 311.0v2.5M505.94 311.0v2.5M508.13 311.0v2.5M510.03 311.0v2.5M511.70 311.0v2.5M513.20 311.0v5M382.3 311.00h-5M382.3 300.99h-2.5M382.3 295.14h-2.5M382.3 290.98h-2.5M382.3 287.76h-2.5M382.3 285.13h-2.5M382.3 282.90h-2.5M382.3 280.97h-2.5M382.3 279.27h-2.5M382.3 277.75h-5M382.3 267.74h-2.5M382.3 261.89h-2.5M382.3 257.73h-2.5M382.3 254.51h-2.5M382.3 251.88h-2.5M382.3 249.65h-2.5M382.3 247.72h-2.5M382.3 246.02h-2.5M382.3 244.50h-5M382.3 234.49h-2.5M382.3 228.64h-2.5M382.3 224.48h-2.5M382.3 221.26h-2.5M382.3 218.63h-2.5M382.3 216.40h-2.5M382.3 214.47h-2.5M382.3 212.77h-2.5M382.3 211.25h-5M382.3 201.24h-2.5M382.3 195.39h-2.5M382.3 191.23h-2.5M382.3 188.01h-2.5M382.3 185.38h-2.5M382.3 183.15h-2.5M382.3 181.22h-2.5M382.3 179.52h-2.5M382.3 178.00h-5" fill="none" stroke="#000" stroke-width="1.15"/><g font-family="Liberation Sans, sans-serif" fill="#000" stroke="#000" stroke-width="0.7"><text transform="translate(376.2,326.3) scale(0.86,1.07)" font-size="9.5"><tspan letter-spacing="-0.6">10</tspan><tspan dx="1.2" dy="-4.6" font-size="9.4">0</tspan></text><text transform="translate(408.3,326.3) scale(0.86,1.07)" font-size="9.5"><tspan letter-spacing="-0.6">10</tspan><tspan dx="1.2" dy="-4.6" font-size="9.4">1</tspan></text><text transform="translate(440.5,326.3) scale(0.86,1.07)" font-size="9.5"><tspan letter-spacing="-0.6">10</tspan><tspan dx="1.2" dy="-4.6" font-size="9.4">2</tspan></text><text transform="translate(472.6,326.3) scale(0.86,1.07)" font-size="9.5"><tspan letter-spacing="-0.6">10</tspan><tspan dx="1.2" dy="-4.6" font-size="9.4">3</tspan></text><text transform="translate(504.8,326.3) scale(0.86,1.07)" font-size="9.5"><tspan letter-spacing="-0.6">10</tspan><tspan dx="1.2" dy="-4.6" font-size="9.4">4</tspan></text><text transform="translate(375.2,317.3) rotate(-90) scale(0.86,1.07)" font-size="9.5"><tspan letter-spacing="-0.6">10</tspan><tspan dx="2.2" dy="-5" font-size="8.8">0</tspan></text><text transform="translate(375.2,284.4) rotate(-90) scale(0.86,1.07)" font-size="9.5"><tspan letter-spacing="-0.6">10</tspan><tspan dx="2.2" dy="-5" font-size="8.8">1</tspan></text><text transform="translate(375.2,251.4) rotate(-90) scale(0.86,1.07)" font-size="9.5"><tspan letter-spacing="-0.6">10</tspan><tspan dx="2.2" dy="-5" font-size="8.8">2</tspan></text><text transform="translate(375.2,218.5) rotate(-90) scale(0.86,1.07)" font-size="9.5"><tspan letter-spacing="-0.6">10</tspan><tspan dx="2.2" dy="-5" font-size="8.8">3</tspan></text><text transform="translate(375.2,185.5) rotate(-90) scale(0.86,1.07)" font-size="9.5"><tspan letter-spacing="-0.6">10</tspan><tspan dx="2.2" dy="-5" font-size="8.8">4</tspan></text><text x="435.2" y="335.0" font-size="8.7">CD45</text><text transform="translate(363.3,263.7) rotate(-90) scale(1,1.12)" font-size="8.8">anti-TSH</text></g><g font-family="Liberation Serif, serif" font-size="12.6" fill="#000" stroke="#000" stroke-width="0.5"><text x="387.6" y="192.1">R3</text><path d="M386.7 194.1h17.4" stroke="#000" stroke-width="1"/><text x="506.7" y="190.6" text-anchor="end">85%</text><text x="387.3" y="227.3">1%</text><text x="387.3" y="306.1">5%</text><text x="501.3" y="306.1" text-anchor="end">9%</text></g></g><g><path transform="translate(0,0.5)" d="M97 370h1M84 386h1M109 390h1M79 393h1M118 394h1M124 395h1M56 397h1M77 399h2M120 400h2M70 401h1M80 401h1M107 401h1M115 401h1M130 401h1M134 401h1M63 402h1M68 402h1M87 402h1M95 402h1M114 402h1M117 402h1M126 402h2M130 402h1M140 402h1M81 403h1M84 403h1M106 403h1M110 403h1M112 403h1M120 403h1M126 403h1M131 403h1M135 403h1M139 403h1M113 404h1M115 404h1M117 404h1M121 404h4M126 404h1M128 404h1M138 404h1M155 404h1M66 405h1M78 405h1M95 405h1M110 405h1M113 405h2M119 405h1M121 405h3M125 405h2M131 405h3M142 405h1M47 406h1M69 406h1M111 406h2M114 406h7M122 406h2M126 406h3M131 406h1M136 406h2M142 406h1M146 406h1M56 407h1M66 407h1M80 407h1M87 407h1M97 407h1M108 407h1M111 407h1M114 407h1M118 407h3M122 407h2M125 407h2M128 407h4M135 407h1M71 408h1M73 408h1M80 408h1M97 408h1M106 408h1M110 408h1M113 408h1M116 408h7M125 408h1M127 408h1M129 408h2M132 408h2M136 408h1M58 409h2M74 409h1M83 409h1M88 409h1M101 409h1M109 409h1M114 409h1M116 409h12M129 409h1M131 409h1M133 409h1M135 409h1M51 410h1M64 410h1M69 410h1M81 410h1M99 410h1M104 410h1M107 410h1M110 410h1M114 410h1M117 410h7M125 410h4M130 410h2M133 410h3M137 410h2M56 411h1M67 411h1M76 411h1M85 411h1M87 411h1M109 411h1M112 411h18M131 411h4M142 411h1M63 412h1M104 412h1M108 412h1M113 412h1M115 412h12M128 412h6M135 412h1M141 412h1M143 412h1M145 412h1M47 413h1M56 413h1M59 413h1M65 413h1M76 413h2M82 413h1M86 413h1M91 413h1M111 413h2M114 413h11M126 413h3M132 413h1M134 413h1M137 413h2M140 413h1M40 414h1M55 414h1M64 414h1M66 414h1M74 414h1M79 414h1M88 414h1M94 414h1M101 414h1M107 414h1M109 414h1M114 414h2M117 414h5M123 414h3M129 414h1M133 414h2M140 414h1M55 415h2M61 415h1M64 415h1M87 415h2M102 415h1M108 415h1M110 415h1M114 415h4M120 415h2M124 415h1M126 415h6M133 415h1M135 415h2M139 415h1M52 416h1M55 416h1M64 416h2M67 416h1M71 416h3M78 416h1M83 416h1M95 416h1M105 416h1M107 416h1M112 416h3M116 416h2M119 416h1M121 416h11M134 416h3M46 417h1M55 417h1M62 417h3M66 417h1M71 417h1M73 417h1M75 417h2M83 417h1M102 417h1M104 417h1M110 417h2M115 417h1M119 417h2M124 417h3M128 417h2M131 417h1M135 417h1M138 417h1M140 417h1M55 418h1M57 418h1M60 418h2M65 418h4M72 418h1M74 418h2M100 418h1M110 418h1M114 418h1M121 418h3M125 418h1M128 418h5M136 418h1M140 418h1M42 419h1M46 419h1M49 419h1M51 419h1M56 419h1M58 419h2M62 419h3M66 419h1M69 419h1M72 419h1M74 419h1M76 419h1M89 419h1M100 419h1M102 419h1M104 419h1M108 419h1M113 419h1M115 419h1M117 419h1M123 419h4M129 419h1M131 419h1M151 419h1M42 420h1M48 420h1M51 420h2M56 420h3M60 420h1M62 420h6M71 420h1M78 420h3M90 420h1M94 420h1M97 420h1M102 420h1M105 420h1M113 420h1M117 420h1M124 420h1M131 420h1M133 420h1M138 420h1M140 420h1M34 421h1M47 421h1M50 421h3M54 421h2M57 421h1M59 421h2M63 421h3M67 421h3M75 421h1M79 421h2M88 421h1M90 421h1M92 421h1M108 421h1M114 421h2M118 421h1M120 421h1M125 421h1M127 421h1M135 421h1M29 422h1M42 422h1M48 422h3M52 422h16M72 422h1M77 422h1M85 422h1M91 422h2M105 422h3M110 422h1M115 422h1M117 422h1M119 422h1M123 422h1M125 422h1M131 422h1M134 422h1M36 423h1M41 423h5M47 423h1M49 423h20M73 423h2M76 423h1M80 423h1M89 423h1M95 423h1M98 423h1M101 423h1M104 423h1M107 423h1M110 423h2M120 423h2M124 423h1M37 424h1M40 424h8M49 424h5M55 424h9M66 424h2M71 424h3M75 424h1M78 424h2M82 424h1M85 424h1M90 424h1M92 424h1M96 424h1M100 424h2M104 424h1M113 424h1M117 424h2M139 424h1M40 425h8M49 425h16M66 425h5M72 425h1M76 425h2M86 425h1M95 425h2M99 425h2M104 425h1M106 425h1M108 425h2M112 425h1M121 425h1M139 425h1M35 426h2M39 426h6M46 426h5M52 426h14M70 426h1M72 426h1M80 426h1M86 426h1M88 426h1M90 426h1M93 426h1M96 426h1M99 426h4M105 426h1M109 426h1M112 426h1M114 426h1M120 426h1M147 426h1M30 427h1M35 427h2M38 427h3M42 427h29M72 427h1M76 427h2M79 427h3M84 427h1M88 427h1M90 427h3M94 427h1M98 427h2M103 427h2M106 427h3M111 427h1M127 427h1M130 427h1M132 427h1M35 428h2M38 428h2M41 428h20M62 428h7M71 428h2M74 428h1M77 428h1M80 428h1M85 428h1M88 428h2M91 428h1M95 428h2M99 428h2M106 428h1M110 428h1M112 428h1M120 428h1M126 428h1M33 429h6M40 429h23M64 429h3M68 429h1M70 429h1M72 429h2M75 429h1M77 429h1M79 429h1M86 429h4M92 429h1M96 429h1M98 429h1M102 429h3M108 429h1M110 429h2M118 429h1M126 429h1M130 429h1M139 429h1M29 430h4M34 430h34M69 430h1M72 430h2M83 430h2M88 430h2M93 430h1M95 430h2M98 430h1M100 430h3M104 430h1M106 430h2M109 430h1M126 430h1M29 431h41M73 431h1M76 431h3M80 431h2M83 431h1M89 431h4M97 431h2M101 431h1M103 431h1M106 431h1M110 431h1M114 431h1M116 431h2M128 431h1M29 432h1M31 432h35M71 432h1M73 432h1M75 432h1M77 432h2M80 432h1M83 432h1M86 432h1M90 432h2M93 432h1M95 432h2M99 432h5M105 432h1M107 432h1M110 432h1M112 432h1M118 432h1M127 432h3M29 433h1M32 433h38M73 433h1M77 433h1M79 433h2M84 433h1M88 433h4M93 433h1M99 433h1M104 433h1M108 433h3M115 433h1M29 434h33M64 434h1M67 434h1M69 434h1M76 434h1M81 434h2M85 434h2M91 434h2M94 434h1M100 434h1M105 434h1M118 434h1M127 434h1M134 434h1M29 435h33M63 435h4M71 435h1M74 435h1M80 435h1M82 435h2M87 435h3M104 435h1M111 435h1M127 435h1M133 435h1M29 436h33M64 436h1M74 436h1M77 436h1M79 436h1M84 436h2M87 436h1M90 436h1M93 436h1M98 436h1M102 436h1M124 436h1M29 437h30M60 437h1M62 437h3M66 437h1M78 437h1M88 437h1M90 437h1M92 437h1M94 437h1M102 437h1M106 437h1M118 437h1M126 437h1M29 438h33M64 438h1M71 438h1M74 438h2M78 438h1M86 438h1M93 438h1M96 438h2M99 438h1M120 438h1M29 439h34M65 439h2M88 439h1M92 439h1M94 439h1M100 439h1M29 440h26M56 440h3M60 440h1M62 440h1M65 440h1M76 440h1M89 440h1M29 441h25M58 441h2M61 441h1M80 441h1M86 441h1M92 441h1M110 441h1M29 442h19M50 442h2M55 442h3M86 442h1M110 442h1M29 443h8M38 443h15M56 443h1M29 444h10M40 444h9M50 444h1M52 444h1M58 444h2M29 445h10M40 445h4M45 445h1M48 445h2M57 445h1M29 446h10M40 446h1M43 446h4M48 446h3M54 446h1M29 447h6M36 447h2M39 447h3M43 447h3M48 447h1M29 448h9M40 448h4M29 449h3M33 449h5M40 449h1M58 449h1M29 450h3M34 450h8M52 450h1M29 451h7M29 452h2M32 452h3M36 452h1M31 453h1M33 453h1M41 453h1M45 453h1M29 454h1M34 454h1M37 454h1M29 455h2M31 456h1M33 456h1M41 460h1" stroke="#000" stroke-width="1.1" fill="none"/><path d="M28.9 349.0H160.4V482.3H28.9Z M82.5 349.0V482.3 M28.9 421.7H160.4" fill="none" stroke="#000" stroke-width="1.35"/><path d="M28.90 482.3v5M38.80 482.3v2.5M44.59 482.3v2.5M48.69 482.3v2.5M51.88 482.3v2.5M54.48 482.3v2.5M56.68 482.3v2.5M58.59 482.3v2.5M60.27 482.3v2.5M61.77 482.3v5M71.67 482.3v2.5M77.46 482.3v2.5M81.57 482.3v2.5M84.75 482.3v2.5M87.36 482.3v2.5M89.56 482.3v2.5M91.46 482.3v2.5M93.15 482.3v2.5M94.65 482.3v5M104.55 482.3v2.5M110.34 482.3v2.5M114.44 482.3v2.5M117.63 482.3v2.5M120.23 482.3v2.5M122.43 482.3v2.5M124.34 482.3v2.5M126.02 482.3v2.5M127.53 482.3v5M137.42 482.3v2.5M143.21 482.3v2.5M147.32 482.3v2.5M150.50 482.3v2.5M153.11 482.3v2.5M155.31 482.3v2.5M157.21 482.3v2.5M158.90 482.3v2.5M160.40 482.3v5M28.9 482.30h-5M28.9 472.27h-2.5M28.9 466.40h-2.5M28.9 462.24h-2.5M28.9 459.01h-2.5M28.9 456.37h-2.5M28.9 454.14h-2.5M28.9 452.20h-2.5M28.9 450.50h-2.5M28.9 448.98h-5M28.9 438.94h-2.5M28.9 433.07h-2.5M28.9 428.91h-2.5M28.9 425.68h-2.5M28.9 423.04h-2.5M28.9 420.81h-2.5M28.9 418.88h-2.5M28.9 417.17h-2.5M28.9 415.65h-5M28.9 405.62h-2.5M28.9 399.75h-2.5M28.9 395.59h-2.5M28.9 392.36h-2.5M28.9 389.72h-2.5M28.9 387.49h-2.5M28.9 385.55h-2.5M28.9 383.85h-2.5M28.9 382.32h-5M28.9 372.29h-2.5M28.9 366.42h-2.5M28.9 362.26h-2.5M28.9 359.03h-2.5M28.9 356.39h-2.5M28.9 354.16h-2.5M28.9 352.23h-2.5M28.9 350.52h-2.5M28.9 349.00h-5" fill="none" stroke="#000" stroke-width="1.15"/><g font-family="Liberation Sans, sans-serif" fill="#000" stroke="#000" stroke-width="0.7"><text transform="translate(22.8,497.6) scale(0.86,1.07)" font-size="9.5"><tspan letter-spacing="-0.6">10</tspan><tspan dx="1.2" dy="-4.6" font-size="9.4">0</tspan></text><text transform="translate(55.1,497.6) scale(0.86,1.07)" font-size="9.5"><tspan letter-spacing="-0.6">10</tspan><tspan dx="1.2" dy="-4.6" font-size="9.4">1</tspan></text><text transform="translate(87.4,497.6) scale(0.86,1.07)" font-size="9.5"><tspan letter-spacing="-0.6">10</tspan><tspan dx="1.2" dy="-4.6" font-size="9.4">2</tspan></text><text transform="translate(119.7,497.6) scale(0.86,1.07)" font-size="9.5"><tspan letter-spacing="-0.6">10</tspan><tspan dx="1.2" dy="-4.6" font-size="9.4">3</tspan></text><text transform="translate(152.0,497.6) scale(0.86,1.07)" font-size="9.5"><tspan letter-spacing="-0.6">10</tspan><tspan dx="1.2" dy="-4.6" font-size="9.4">4</tspan></text><text transform="translate(21.8,488.6) rotate(-90) scale(0.86,1.07)" font-size="9.5"><tspan letter-spacing="-0.6">10</tspan><tspan dx="2.2" dy="-5" font-size="8.8">0</tspan></text><text transform="translate(21.8,455.6) rotate(-90) scale(0.86,1.07)" font-size="9.5"><tspan letter-spacing="-0.6">10</tspan><tspan dx="2.2" dy="-5" font-size="8.8">1</tspan></text><text transform="translate(21.8,422.6) rotate(-90) scale(0.86,1.07)" font-size="9.5"><tspan letter-spacing="-0.6">10</tspan><tspan dx="2.2" dy="-5" font-size="8.8">2</tspan></text><text transform="translate(21.8,389.5) rotate(-90) scale(0.86,1.07)" font-size="9.5"><tspan letter-spacing="-0.6">10</tspan><tspan dx="2.2" dy="-5" font-size="8.8">3</tspan></text><text transform="translate(21.8,356.5) rotate(-90) scale(0.86,1.07)" font-size="9.5"><tspan letter-spacing="-0.6">10</tspan><tspan dx="2.2" dy="-5" font-size="8.8">4</tspan></text><text x="79.8" y="506.3" font-size="8.7">CD11b</text><text transform="translate(9.9,434.8) rotate(-90) scale(1,1.12)" font-size="8.8">anti-TSH</text></g><g font-family="Liberation Serif, serif" font-size="12.6" fill="#000" stroke="#000" stroke-width="0.5"><text x="34.2" y="363.1">R1</text><path d="M33.3 365.1h17.4" stroke="#000" stroke-width="1"/><text x="153.6" y="361.6" text-anchor="end">22%</text><text x="33.9" y="409.8">1%</text><text x="33.9" y="477.4">73%</text><text x="148" y="477.4" text-anchor="end">4%</text></g></g><g><path transform="translate(0,0.5)" d="M287 357h1M273 376h1M274 382h1M288 385h1M310 387h1M300 388h1M331 388h1M269 389h1M293 389h1M301 389h1M306 389h1M323 389h1M335 389h1M305 390h1M287 391h1M300 391h1M306 391h2M311 391h3M315 391h1M336 391h1M275 392h1M278 392h1M289 392h2M292 392h1M303 392h1M305 392h4M312 392h1M325 392h1M334 392h1M287 393h1M292 393h3M296 393h4M302 393h5M308 393h2M314 393h1M319 393h1M286 394h2M291 394h1M293 394h1M296 394h3M302 394h1M304 394h1M308 394h2M312 394h1M317 394h2M320 394h1M324 394h1M262 395h1M287 395h2M291 395h1M294 395h1M296 395h3M300 395h11M312 395h2M266 396h1M271 396h1M275 396h1M278 396h1M282 396h2M285 396h2M291 396h1M293 396h2M296 396h1M298 396h8M307 396h3M311 396h2M315 396h1M317 396h1M324 396h1M236 397h1M245 397h1M261 397h1M268 397h1M274 397h1M285 397h1M287 397h3M292 397h4M297 397h21M320 397h2M323 397h2M328 397h1M333 397h1M255 398h1M264 398h1M267 398h1M269 398h1M274 398h1M277 398h2M280 398h5M286 398h2M293 398h25M319 398h1M322 398h1M324 398h2M328 398h3M252 399h1M255 399h1M258 399h1M262 399h1M266 399h2M270 399h1M272 399h2M275 399h2M280 399h1M282 399h1M284 399h1M286 399h3M290 399h23M314 399h1M316 399h2M319 399h3M324 399h2M328 399h2M333 399h2M244 400h1M247 400h1M249 400h1M253 400h1M262 400h1M265 400h3M269 400h1M272 400h1M275 400h4M280 400h1M283 400h2M288 400h31M320 400h2M323 400h1M237 401h1M240 401h1M249 401h1M252 401h1M254 401h3M260 401h1M263 401h1M272 401h2M279 401h1M281 401h1M283 401h3M287 401h2M290 401h25M316 401h5M322 401h1M324 401h1M331 401h2M336 401h1M246 402h2M250 402h1M255 402h1M258 402h1M260 402h1M263 402h2M266 402h2M270 402h2M273 402h3M278 402h2M281 402h3M285 402h34M320 402h2M325 402h1M327 402h5M239 403h1M259 403h2M264 403h1M266 403h2M269 403h1M272 403h1M274 403h1M276 403h4M281 403h1M283 403h42M327 403h2M330 403h1M332 403h3M246 404h1M249 404h1M251 404h4M258 404h1M260 404h2M263 404h1M265 404h1M267 404h1M269 404h1M273 404h6M280 404h1M284 404h37M323 404h2M326 404h4M331 404h1M333 404h1M336 404h1M237 405h1M240 405h5M250 405h6M260 405h1M263 405h1M265 405h6M272 405h2M275 405h1M277 405h1M280 405h48M329 405h2M332 405h1M236 406h2M246 406h1M248 406h2M251 406h5M258 406h4M263 406h1M265 406h3M269 406h2M275 406h4M280 406h1M283 406h1M286 406h3M290 406h34M326 406h4M331 406h2M238 407h2M244 407h1M246 407h4M251 407h2M255 407h1M259 407h4M265 407h1M269 407h1M271 407h1M274 407h4M281 407h2M284 407h2M287 407h35M323 407h1M325 407h1M328 407h4M219 408h1M235 408h2M238 408h1M240 408h2M243 408h2M246 408h2M249 408h1M251 408h3M257 408h1M259 408h2M262 408h2M265 408h1M267 408h1M269 408h1M271 408h2M274 408h3M278 408h3M282 408h44M327 408h1M329 408h1M331 408h2M335 408h1M233 409h1M235 409h1M237 409h1M240 409h2M245 409h3M249 409h7M261 409h1M265 409h4M270 409h2M273 409h1M275 409h2M278 409h1M281 409h42M329 409h1M334 409h2M228 410h1M235 410h1M238 410h1M240 410h1M242 410h3M247 410h1M250 410h2M256 410h2M259 410h1M267 410h4M273 410h1M275 410h1M280 410h1M282 410h41M325 410h1M329 410h1M334 410h1M231 411h1M233 411h8M242 411h10M254 411h2M257 411h2M261 411h1M263 411h1M265 411h2M269 411h1M272 411h2M276 411h1M279 411h1M282 411h1M284 411h39M326 411h2M331 411h2M223 412h1M230 412h2M233 412h1M236 412h4M241 412h12M256 412h1M258 412h2M261 412h1M263 412h1M267 412h1M269 412h2M272 412h2M275 412h3M279 412h1M281 412h2M286 412h2M289 412h37M327 412h1M330 412h1M332 412h1M225 413h1M229 413h1M231 413h1M233 413h1M235 413h4M240 413h5M247 413h3M252 413h1M254 413h1M261 413h1M269 413h1M277 413h1M279 413h7M287 413h32M320 413h1M322 413h1M328 413h1M330 413h1M223 414h1M229 414h1M231 414h1M233 414h14M249 414h3M253 414h1M256 414h1M264 414h1M266 414h1M273 414h1M276 414h1M279 414h4M284 414h35M320 414h1M322 414h2M325 414h1M328 414h1M331 414h1M219 415h1M223 415h1M230 415h2M233 415h19M253 415h1M261 415h1M263 415h1M265 415h2M269 415h1M271 415h1M275 415h2M279 415h1M281 415h1M284 415h1M286 415h1M288 415h4M293 415h25M319 415h1M325 415h1M226 416h1M229 416h8M238 416h10M256 416h1M259 416h1M262 416h2M270 416h1M272 416h1M275 416h2M278 416h1M280 416h1M284 416h1M288 416h2M291 416h12M304 416h13M318 416h1M332 416h1M226 417h2M230 417h5M236 417h11M249 417h1M252 417h1M256 417h1M267 417h2M283 417h1M286 417h1M288 417h19M308 417h3M313 417h1M316 417h1M318 417h1M321 417h1M334 417h1M219 418h1M223 418h1M225 418h1M228 418h16M245 418h1M247 418h1M250 418h1M252 418h1M264 418h1M271 418h1M275 418h3M285 418h3M289 418h6M296 418h18M315 418h1M317 418h2M322 418h1M336 418h1M217 419h1M225 419h1M227 419h20M250 419h1M253 419h2M262 419h1M276 419h3M285 419h1M287 419h1M291 419h2M295 419h4M300 419h13M314 419h1M316 419h1M324 419h1M225 420h21M247 420h2M251 420h1M278 420h1M286 420h1M289 420h4M294 420h2M297 420h2M300 420h4M305 420h6M314 420h1M316 420h4M323 420h1M214 421h1M222 421h1M224 421h3M229 421h16M246 421h1M257 421h1M273 421h1M276 421h1M282 421h1M290 421h2M293 421h2M296 421h1M301 421h2M305 421h4M310 421h2M313 421h1M316 421h1M216 422h2M220 422h2M223 422h1M225 422h3M229 422h16M246 422h1M283 422h1M290 422h1M294 422h2M300 422h1M302 422h2M307 422h7M316 422h1M332 422h1M220 423h1M222 423h4M227 423h10M238 423h4M243 423h3M252 423h1M268 423h1M273 423h1M285 423h2M290 423h1M294 423h1M299 423h2M302 423h2M308 423h1M310 423h1M320 423h1M210 424h1M218 424h1M220 424h4M225 424h16M243 424h1M287 424h1M293 424h2M299 424h5M314 424h1M316 424h1M321 424h1M218 425h4M223 425h13M237 425h4M243 425h1M300 425h1M302 425h1M305 425h2M309 425h1M311 425h1M314 425h2M321 425h1M214 426h1M216 426h1M219 426h1M221 426h15M237 426h3M260 426h1M281 426h1M287 426h1M295 426h2M298 426h1M304 426h1M306 426h1M317 426h1M322 426h1M325 426h1M217 427h2M221 427h17M242 427h1M244 427h1M248 427h1M250 427h1M287 427h1M298 427h1M313 427h3M329 427h1M213 428h1M216 428h1M218 428h2M221 428h1M223 428h12M236 428h1M238 428h1M240 428h1M242 428h1M283 428h1M293 428h1M296 428h1M303 428h1M315 428h2M318 428h1M217 429h7M225 429h2M228 429h2M231 429h1M239 429h1M294 429h1M315 429h1M322 429h2M212 430h1M214 430h1M217 430h1M219 430h1M223 430h5M229 430h4M238 430h1M283 430h1M302 430h1M211 431h1M214 431h1M216 431h12M229 431h1M231 431h1M234 431h2M239 431h1M244 431h1M283 431h1M297 431h2M300 431h1M320 431h1M212 432h1M214 432h2M220 432h3M224 432h4M230 432h1M232 432h2M237 432h1M239 432h1M311 432h1M209 433h1M212 433h2M216 433h2M220 433h8M230 433h1M232 433h1M234 433h4M208 434h1M210 434h1M216 434h1M219 434h1M223 434h1M225 434h3M229 434h2M234 434h1M236 434h1M293 434h1M310 434h1M210 435h2M213 435h1M215 435h2M221 435h1M223 435h2M226 435h1M228 435h1M231 435h2M313 435h1M210 436h1M213 436h1M215 436h1M218 436h1M220 436h1M222 436h1M226 436h3M235 436h1M218 437h1M224 437h1M230 437h1M213 438h5M222 438h2M206 439h1M212 439h1M215 439h1M218 439h4M227 439h1M215 440h1M217 440h2M224 440h1M226 441h1M229 441h1M211 442h1M213 442h2M221 442h1M211 443h1M207 444h1M213 444h1M209 445h1M215 445h1M261 445h1M225 446h1M209 447h1M209 448h1" stroke="#000" stroke-width="1.1" fill="none"/><path d="M205.5 349.0H337.0V482.3H205.5Z M259.2 349.0V482.3 M205.5 418.8H337.0" fill="none" stroke="#000" stroke-width="1.35"/><path d="M205.50 482.3v5M215.40 482.3v2.5M221.19 482.3v2.5M225.29 482.3v2.5M228.48 482.3v2.5M231.08 482.3v2.5M233.28 482.3v2.5M235.19 482.3v2.5M236.87 482.3v2.5M238.38 482.3v5M248.27 482.3v2.5M254.06 482.3v2.5M258.17 482.3v2.5M261.35 482.3v2.5M263.96 482.3v2.5M266.16 482.3v2.5M268.06 482.3v2.5M269.75 482.3v2.5M271.25 482.3v5M281.15 482.3v2.5M286.94 482.3v2.5M291.04 482.3v2.5M294.23 482.3v2.5M296.83 482.3v2.5M299.03 482.3v2.5M300.94 482.3v2.5M302.62 482.3v2.5M304.12 482.3v5M314.02 482.3v2.5M319.81 482.3v2.5M323.92 482.3v2.5M327.10 482.3v2.5M329.71 482.3v2.5M331.91 482.3v2.5M333.81 482.3v2.5M335.50 482.3v2.5M337.00 482.3v5M205.5 482.30h-5M205.5 472.27h-2.5M205.5 466.40h-2.5M205.5 462.24h-2.5M205.5 459.01h-2.5M205.5 456.37h-2.5M205.5 454.14h-2.5M205.5 452.20h-2.5M205.5 450.50h-2.5M205.5 448.98h-5M205.5 438.94h-2.5M205.5 433.07h-2.5M205.5 428.91h-2.5M205.5 425.68h-2.5M205.5 423.04h-2.5M205.5 420.81h-2.5M205.5 418.88h-2.5M205.5 417.17h-2.5M205.5 415.65h-5M205.5 405.62h-2.5M205.5 399.75h-2.5M205.5 395.59h-2.5M205.5 392.36h-2.5M205.5 389.72h-2.5M205.5 387.49h-2.5M205.5 385.55h-2.5M205.5 383.85h-2.5M205.5 382.32h-5M205.5 372.29h-2.5M205.5 366.42h-2.5M205.5 362.26h-2.5M205.5 359.03h-2.5M205.5 356.39h-2.5M205.5 354.16h-2.5M205.5 352.23h-2.5M205.5 350.52h-2.5M205.5 349.00h-5" fill="none" stroke="#000" stroke-width="1.15"/><g font-family="Liberation Sans, sans-serif" fill="#000" stroke="#000" stroke-width="0.7"><text transform="translate(199.4,497.6) scale(0.86,1.07)" font-size="9.5"><tspan letter-spacing="-0.6">10</tspan><tspan dx="1.2" dy="-4.6" font-size="9.4">0</tspan></text><text transform="translate(231.7,497.6) scale(0.86,1.07)" font-size="9.5"><tspan letter-spacing="-0.6">10</tspan><tspan dx="1.2" dy="-4.6" font-size="9.4">1</tspan></text><text transform="translate(264.0,497.6) scale(0.86,1.07)" font-size="9.5"><tspan letter-spacing="-0.6">10</tspan><tspan dx="1.2" dy="-4.6" font-size="9.4">2</tspan></text><text transform="translate(296.3,497.6) scale(0.86,1.07)" font-size="9.5"><tspan letter-spacing="-0.6">10</tspan><tspan dx="1.2" dy="-4.6" font-size="9.4">3</tspan></text><text transform="translate(328.6,497.6) scale(0.86,1.07)" font-size="9.5"><tspan letter-spacing="-0.6">10</tspan><tspan dx="1.2" dy="-4.6" font-size="9.4">4</tspan></text><text transform="translate(198.4,488.6) rotate(-90) scale(0.86,1.07)" font-size="9.5"><tspan letter-spacing="-0.6">10</tspan><tspan dx="2.2" dy="-5" font-size="8.8">0</tspan></text><text transform="translate(198.4,455.6) rotate(-90) scale(0.86,1.07)" font-size="9.5"><tspan letter-spacing="-0.6">10</tspan><tspan dx="2.2" dy="-5" font-size="8.8">1</tspan></text><text transform="translate(198.4,422.6) rotate(-90) scale(0.86,1.07)" font-size="9.5"><tspan letter-spacing="-0.6">10</tspan><tspan dx="2.2" dy="-5" font-size="8.8">2</tspan></text><text transform="translate(198.4,389.5) rotate(-90) scale(0.86,1.07)" font-size="9.5"><tspan letter-spacing="-0.6">10</tspan><tspan dx="2.2" dy="-5" font-size="8.8">3</tspan></text><text transform="translate(198.4,356.5) rotate(-90) scale(0.86,1.07)" font-size="9.5"><tspan letter-spacing="-0.6">10</tspan><tspan dx="2.2" dy="-5" font-size="8.8">4</tspan></text><text x="256.4" y="506.3" font-size="8.7">CD11b</text><text transform="translate(186.5,434.8) rotate(-90) scale(1,1.12)" font-size="8.8">anti-TSH</text></g><g font-family="Liberation Serif, serif" font-size="12.6" fill="#000" stroke="#000" stroke-width="0.5"><text x="210.8" y="363.1">R2</text><path d="M209.9 365.1h17.4" stroke="#000" stroke-width="1"/><text x="330.4" y="361.6" text-anchor="end">76%</text><text x="210.5" y="409.7">6%</text><text x="210.5" y="477.4">14%</text><text x="330.3" y="477.4" text-anchor="end">4%</text></g></g><g><path transform="translate(0,0.5)" d="M462 363h1M468 364h1M475 365h1M467 366h1M458 368h1M466 369h1M471 369h1M477 369h1M463 370h1M466 370h1M472 370h1M476 370h1M464 371h2M469 371h2M480 371h1M464 372h1M468 372h1M472 372h2M487 372h1M493 372h1M462 373h1M465 373h2M470 373h1M472 373h1M476 373h1M448 374h1M455 374h2M458 374h2M463 374h3M467 374h4M472 374h1M474 374h1M476 374h2M481 374h1M459 375h1M461 375h1M463 375h2M467 375h5M475 375h1M478 375h3M482 375h1M443 376h1M459 376h1M461 376h6M468 376h1M472 376h2M475 376h3M443 377h1M449 377h1M453 377h1M456 377h1M461 377h6M468 377h3M472 377h1M474 377h2M477 377h1M455 378h1M457 378h1M460 378h1M462 378h10M474 378h2M480 378h1M487 378h1M499 378h1M454 379h1M456 379h6M463 379h4M468 379h1M470 379h5M487 379h1M451 380h2M455 380h1M457 380h1M459 380h8M468 380h5M474 380h1M477 380h1M450 381h1M453 381h1M456 381h9M466 381h5M474 381h1M476 381h1M478 381h1M448 382h1M454 382h2M457 382h4M462 382h4M467 382h4M473 382h1M478 382h1M455 383h6M462 383h6M469 383h3M473 383h1M476 383h1M482 383h1M450 384h1M454 384h1M459 384h7M469 384h4M478 384h2M483 384h1M486 384h1M450 385h1M453 385h1M455 385h7M463 385h3M467 385h5M478 385h1M480 385h1M482 385h1M486 385h1M451 386h1M453 386h1M455 386h3M459 386h10M471 386h2M477 386h1M447 387h1M455 387h1M461 387h4M470 387h1M472 387h1M450 388h2M453 388h1M456 388h3M460 388h1M463 388h1M466 388h2M469 388h2M482 388h1M450 389h1M459 389h3M463 389h2M474 389h1M441 390h1M451 390h1M454 390h1M456 390h1M459 390h1M464 390h1M468 390h1M453 391h1M456 391h3M460 391h1M463 391h1M465 391h1M468 391h1M444 392h1M465 392h3M447 393h1M457 393h1M460 393h1M459 395h1M453 398h1M463 398h1M453 401h1M504 401h1M448 403h1M488 407h1M446 411h1M445 412h1M453 416h1M435 417h1M445 422h1M448 423h1M420 424h1M445 424h1M469 424h1M448 425h1M422 431h1M465 432h1M488 433h1M457 440h1" stroke="#000" stroke-width="1.1" fill="none"/><path d="M382.4 349.4H513.5V482.6H382.4Z M433.7 349.4V482.6 M382.4 405.2H513.5" fill="none" stroke="#000" stroke-width="1.35"/><path d="M382.40 482.6v5M392.27 482.6v2.5M398.04 482.6v2.5M402.13 482.6v2.5M405.31 482.6v2.5M407.90 482.6v2.5M410.10 482.6v2.5M412.00 482.6v2.5M413.68 482.6v2.5M415.17 482.6v5M425.04 482.6v2.5M430.81 482.6v2.5M434.91 482.6v2.5M438.08 482.6v2.5M440.68 482.6v2.5M442.87 482.6v2.5M444.77 482.6v2.5M446.45 482.6v2.5M447.95 482.6v5M457.82 482.6v2.5M463.59 482.6v2.5M467.68 482.6v2.5M470.86 482.6v2.5M473.45 482.6v2.5M475.65 482.6v2.5M477.55 482.6v2.5M479.23 482.6v2.5M480.73 482.6v5M490.59 482.6v2.5M496.36 482.6v2.5M500.46 482.6v2.5M503.63 482.6v2.5M506.23 482.6v2.5M508.42 482.6v2.5M510.32 482.6v2.5M512.00 482.6v2.5M513.50 482.6v5M382.4 482.60h-5M382.4 472.58h-2.5M382.4 466.71h-2.5M382.4 462.55h-2.5M382.4 459.32h-2.5M382.4 456.69h-2.5M382.4 454.46h-2.5M382.4 452.53h-2.5M382.4 450.82h-2.5M382.4 449.30h-5M382.4 439.28h-2.5M382.4 433.41h-2.5M382.4 429.25h-2.5M382.4 426.02h-2.5M382.4 423.39h-2.5M382.4 421.16h-2.5M382.4 419.23h-2.5M382.4 417.52h-2.5M382.4 416.00h-5M382.4 405.98h-2.5M382.4 400.11h-2.5M382.4 395.95h-2.5M382.4 392.72h-2.5M382.4 390.09h-2.5M382.4 387.86h-2.5M382.4 385.93h-2.5M382.4 384.22h-2.5M382.4 382.70h-5M382.4 372.68h-2.5M382.4 366.81h-2.5M382.4 362.65h-2.5M382.4 359.42h-2.5M382.4 356.79h-2.5M382.4 354.56h-2.5M382.4 352.63h-2.5M382.4 350.92h-2.5M382.4 349.40h-5" fill="none" stroke="#000" stroke-width="1.15"/><g font-family="Liberation Sans, sans-serif" fill="#000" stroke="#000" stroke-width="0.7"><text transform="translate(376.3,497.9) scale(0.86,1.07)" font-size="9.5"><tspan letter-spacing="-0.6">10</tspan><tspan dx="1.2" dy="-4.6" font-size="9.4">0</tspan></text><text transform="translate(408.5,497.9) scale(0.86,1.07)" font-size="9.5"><tspan letter-spacing="-0.6">10</tspan><tspan dx="1.2" dy="-4.6" font-size="9.4">1</tspan></text><text transform="translate(440.7,497.9) scale(0.86,1.07)" font-size="9.5"><tspan letter-spacing="-0.6">10</tspan><tspan dx="1.2" dy="-4.6" font-size="9.4">2</tspan></text><text transform="translate(472.9,497.9) scale(0.86,1.07)" font-size="9.5"><tspan letter-spacing="-0.6">10</tspan><tspan dx="1.2" dy="-4.6" font-size="9.4">3</tspan></text><text transform="translate(505.1,497.9) scale(0.86,1.07)" font-size="9.5"><tspan letter-spacing="-0.6">10</tspan><tspan dx="1.2" dy="-4.6" font-size="9.4">4</tspan></text><text transform="translate(375.3,488.9) rotate(-90) scale(0.86,1.07)" font-size="9.5"><tspan letter-spacing="-0.6">10</tspan><tspan dx="2.2" dy="-5" font-size="8.8">0</tspan></text><text transform="translate(375.3,455.9) rotate(-90) scale(0.86,1.07)" font-size="9.5"><tspan letter-spacing="-0.6">10</tspan><tspan dx="2.2" dy="-5" font-size="8.8">1</tspan></text><text transform="translate(375.3,422.9) rotate(-90) scale(0.86,1.07)" font-size="9.5"><tspan letter-spacing="-0.6">10</tspan><tspan dx="2.2" dy="-5" font-size="8.8">2</tspan></text><text transform="translate(375.3,389.9) rotate(-90) scale(0.86,1.07)" font-size="9.5"><tspan letter-spacing="-0.6">10</tspan><tspan dx="2.2" dy="-5" font-size="8.8">3</tspan></text><text transform="translate(375.3,356.9) rotate(-90) scale(0.86,1.07)" font-size="9.5"><tspan letter-spacing="-0.6">10</tspan><tspan dx="2.2" dy="-5" font-size="8.8">4</tspan></text><text x="433.3" y="506.6" font-size="8.7">CD11b</text><text transform="translate(363.4,435.2) rotate(-90) scale(1,1.12)" font-size="8.8">anti-TSH</text></g><g font-family="Liberation Serif, serif" font-size="12.6" fill="#000" stroke="#000" stroke-width="0.5"><text x="387.7" y="363.5">R3</text><path d="M386.8 365.5h17.4" stroke="#000" stroke-width="1"/><text x="506.5" y="362.0" text-anchor="end">97%</text><text x="387.4" y="397.2">0%</text><text x="387.4" y="477.7">1%</text><text x="507.4" y="477.7" text-anchor="end">2%</text></g></g></g></svg></body></html>
